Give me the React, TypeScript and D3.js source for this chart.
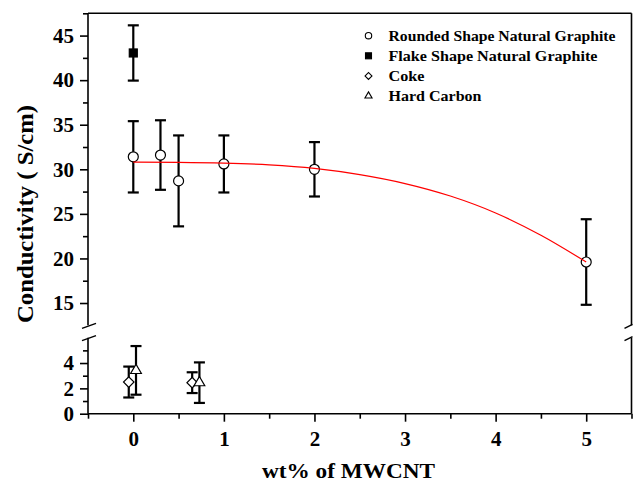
import React, { useEffect, useRef } from 'react';
import * as d3 from 'd3';

const width = 633;
const height = 484;

// Rounded Shape Natural Graphite
const roundX = [0, 0.3, 0.5, 1, 2, 5];
const roundY = [31.4, 31.6, 28.7, 30.6, 30.0, 19.6];
const roundErr = [4.0, 3.9, 5.1, 3.2, 3.05, 4.8];

// Flake Shape Natural Graphite
const flakeX = [0];
const flakeY = [43.05];
const flakeErr = [3.1];

// Coke
const cokeX = [-0.05, 0.65];
const cokeY = [2.5, 2.45];
const cokeErr = [1.22, 0.82];

// Hard Carbon
const hardX = [0.03, 0.73];
const hardY = [3.42, 2.45];
const hardErr = [1.92, 1.6];

// red fit curve
const fitX = [0, 0.5, 1, 1.5, 2, 2.5, 3, 3.5, 4, 4.5, 5];
const fitY = [30.8, 30.78, 30.7, 30.5, 30.1, 29.4, 28.4, 27.0, 25.1, 22.6, 19.6];

const xTicks = [0, 1, 2, 3, 4, 5];
const upperTicks = [15, 20, 25, 30, 35, 40, 45];
const lowerTicks = [0, 2, 4];
const legendLabels = [
  'Rounded Shape Natural Graphite',
  'Flake Shape Natural Graphite',
  'Coke',
  'Hard Carbon',
];

const FONT = '"Liberation Serif", "Times New Roman", Times, serif';

export default function App() {
  const svgRef = useRef<SVGSVGElement | null>(null);

  useEffect(() => {
    const svg = d3.select(svgRef.current);
    svg.selectAll('*').remove();

    const left = 88;
    const right = 631.5;
    const top = 13.3;
    const bottom = 413.7;
    const upperBottom = 325.3;
    const lowerTop = 337.7;

    const x = d3.scaleLinear().domain([-0.5, 5.5]).range([left, right]);
    const yUp = d3.scaleLinear().domain([12.5, 47.5]).range([upperBottom, top]);
    const yLow = d3.scaleLinear().domain([0, 6]).range([bottom, lowerTop]);

    const fmt = d3.format('d');

    // axes (ticks + labels)
    const xAxis = d3.axisBottom(x).tickValues(xTicks).tickSize(8).tickPadding(9).tickFormat(fmt as any);
    const xMinor = d3
      .axisBottom(x)
      .tickValues(d3.range(-0.5, 5.51, 0.5).filter((v) => !xTicks.includes(v)))
      .tickSize(5)
      .tickFormat(() => '');

    const upAxis = d3.axisLeft(yUp).tickValues(upperTicks).tickSize(8).tickPadding(6).tickFormat(fmt as any);
    const upMinor = d3
      .axisLeft(yUp)
      .tickValues(d3.range(17.5, 47.6, 5))
      .tickSize(5)
      .tickFormat(() => '');
    const lowAxis = d3.axisLeft(yLow).tickValues(lowerTicks).tickSize(8).tickPadding(6).tickFormat(fmt as any);
    const lowMinor = d3
      .axisLeft(yLow)
      .tickValues([1, 3, 5])
      .tickSize(5)
      .tickFormat(() => '');

    const styleAxis = (g: any) => {
      g.select('.domain').remove();
      g.selectAll('.tick line').attr('stroke', '#000').attr('stroke-width', 1.6);
      g.selectAll('.tick text')
        .attr('fill', '#000')
        .style('font-family', FONT)
        .style('font-weight', 'bold')
        .style('font-size', '21px');
    };

    svg.append('g').attr('transform', `translate(0,${bottom})`).call(xAxis).call(styleAxis);
    svg.append('g').attr('transform', `translate(0,${bottom})`).call(xMinor).call(styleAxis);
    svg.append('g').attr('transform', `translate(${left},0)`).call(upAxis).call(styleAxis);
    svg.append('g').attr('transform', `translate(${left},0)`).call(upMinor).call(styleAxis);
    svg.append('g').attr('transform', `translate(${left},0)`).call(lowAxis).call(styleAxis);
    svg.append('g').attr('transform', `translate(${left},0)`).call(lowMinor).call(styleAxis);

    // frame
    const frame = svg
      .append('g')
      .attr('stroke', '#000')
      .attr('stroke-width', 1.6)
      .attr('fill', 'none');
    frame.append('line').attr('x1', left).attr('x2', right).attr('y1', top).attr('y2', top);
    frame.append('line').attr('x1', left).attr('x2', right).attr('y1', bottom).attr('y2', bottom);
    [left, right].forEach((xx) => {
      frame.append('line').attr('x1', xx).attr('x2', xx).attr('y1', top).attr('y2', upperBottom);
      frame.append('line').attr('x1', xx).attr('x2', xx).attr('y1', lowerTop).attr('y2', bottom);
    });
    // break marks
    const brk = svg.append('g').attr('stroke', '#000').attr('stroke-width', 1.4);
    [upperBottom, lowerTop].forEach((yy) => {
      brk.append('line').attr('x1', left - 6).attr('x2', left + 8).attr('y1', yy + 3).attr('y2', yy - 2);
      brk.append('line').attr('x1', right - 7).attr('x2', right + 1).attr('y1', yy + 3).attr('y2', yy - 1);
    });

    // error bars
    const bars = svg.append('g').attr('stroke', '#000').attr('stroke-width', 2.2);
    const errBars = (xs: number[], ys: number[], es: number[], y: d3.ScaleLinear<number, number>) => {
      xs.forEach((xv, i) => {
        const cx = x(xv);
        const y1 = y(ys[i] + es[i]);
        const y2 = y(ys[i] - es[i]);
        bars.append('line').attr('x1', cx).attr('x2', cx).attr('y1', y1).attr('y2', y2);
        bars.append('line').attr('x1', cx - 5.5).attr('x2', cx + 5.5).attr('y1', y1).attr('y2', y1);
        bars.append('line').attr('x1', cx - 5.5).attr('x2', cx + 5.5).attr('y1', y2).attr('y2', y2);
      });
    };
    errBars(roundX, roundY, roundErr, yUp);
    errBars(flakeX, flakeY, flakeErr, yUp);
    errBars(cokeX, cokeY, cokeErr, yLow);
    errBars(hardX, hardY, hardErr, yLow);

    // markers
    const marks = svg.append('g').attr('stroke', '#000').attr('stroke-width', 1.2);
    roundX.forEach((xv, i) => {
      marks.append('circle').attr('cx', x(xv)).attr('cy', yUp(roundY[i])).attr('r', 5).attr('fill', '#fff');
    });
    flakeX.forEach((xv, i) => {
      marks
        .append('rect')
        .attr('x', x(xv) - 4)
        .attr('y', yUp(flakeY[i]) - 4)
        .attr('width', 8)
        .attr('height', 8)
        .attr('fill', '#000');
    });
    const diamond = d3.symbol().type(d3.symbolSquare).size(55);
    cokeX.forEach((xv, i) => {
      marks
        .append('path')
        .attr('d', diamond() as string)
        .attr('transform', `translate(${x(xv)},${yLow(cokeY[i])}) rotate(45)`)
        .attr('fill', '#fff');
    });
    const tri = d3.symbol().type(d3.symbolTriangle).size(50);
    hardX.forEach((xv, i) => {
      marks
        .append('path')
        .attr('d', tri() as string)
        .attr('transform', `translate(${x(xv)},${yLow(hardY[i])})`)
        .attr('fill', '#fff');
    });

    // fit curve
    const fit = d3
      .line<number>()
      .x((d) => x(d))
      .y((_, i) => yUp(fitY[i]))
      .curve(d3.curveMonotoneX);
    svg
      .append('path')
      .attr('d', fit(fitX) as string)
      .attr('fill', 'none')
      .attr('stroke', '#ff0000')
      .attr('stroke-width', 1.2);

    // legend
    const legendWidths = [227, 209, 36, 93];
    const lg = svg.append('g').attr('transform', 'translate(368.5,35.7)');
    legendLabels.forEach((lab, i) => {
      const row = lg.append('g').attr('transform', `translate(0,${i * 20.1})`);
      const s = row.append('g').attr('stroke', '#000').attr('stroke-width', 1.1);
      if (i === 0) s.append('circle').attr('r', 3.2).attr('fill', '#fff');
      if (i === 1) s.append('rect').attr('x', -3).attr('y', -3).attr('width', 6).attr('height', 6).attr('fill', '#000');
      if (i === 2)
        s.append('path')
          .attr('d', d3.symbol().type(d3.symbolSquare).size(24)() as string)
          .attr('transform', 'rotate(45)')
          .attr('fill', '#fff');
      if (i === 3)
        s.append('path')
          .attr('d', d3.symbol().type(d3.symbolTriangle).size(22)() as string)
          .attr('fill', '#fff');
      row
        .append('text')
        .attr('x', 20)
        .attr('y', 5)
        .attr('textLength', legendWidths[i])
        .attr('lengthAdjust', 'spacingAndGlyphs')
        .style('font-family', FONT)
        .style('font-weight', 'bold')
        .style('font-size', '15px')
        .text(lab);
    });

    // axis titles
    svg
      .append('text')
      .attr('x', 348.5)
      .attr('y', 478)
      .attr('text-anchor', 'middle')
      .attr('textLength', 173)
      .attr('lengthAdjust', 'spacingAndGlyphs')
      .style('font-family', FONT)
      .style('font-weight', 'bold')
      .style('font-size', '20px')
      .text('wt% of MWCNT');
    svg
      .append('text')
      .attr('transform', 'translate(33,214) rotate(-90)')
      .attr('text-anchor', 'middle')
      .attr('textLength', 218)
      .attr('lengthAdjust', 'spacingAndGlyphs')
      .style('font-family', FONT)
      .style('font-weight', 'bold')
      .style('font-size', '24px')
      .text('Conductivity ( S/cm)');
  }, []);

  return (
    <svg
      ref={svgRef}
      width={width}
      height={height}
      style={{ position: 'absolute', left: 0, top: 0, background: '#fff' }}
    />
  );
}
